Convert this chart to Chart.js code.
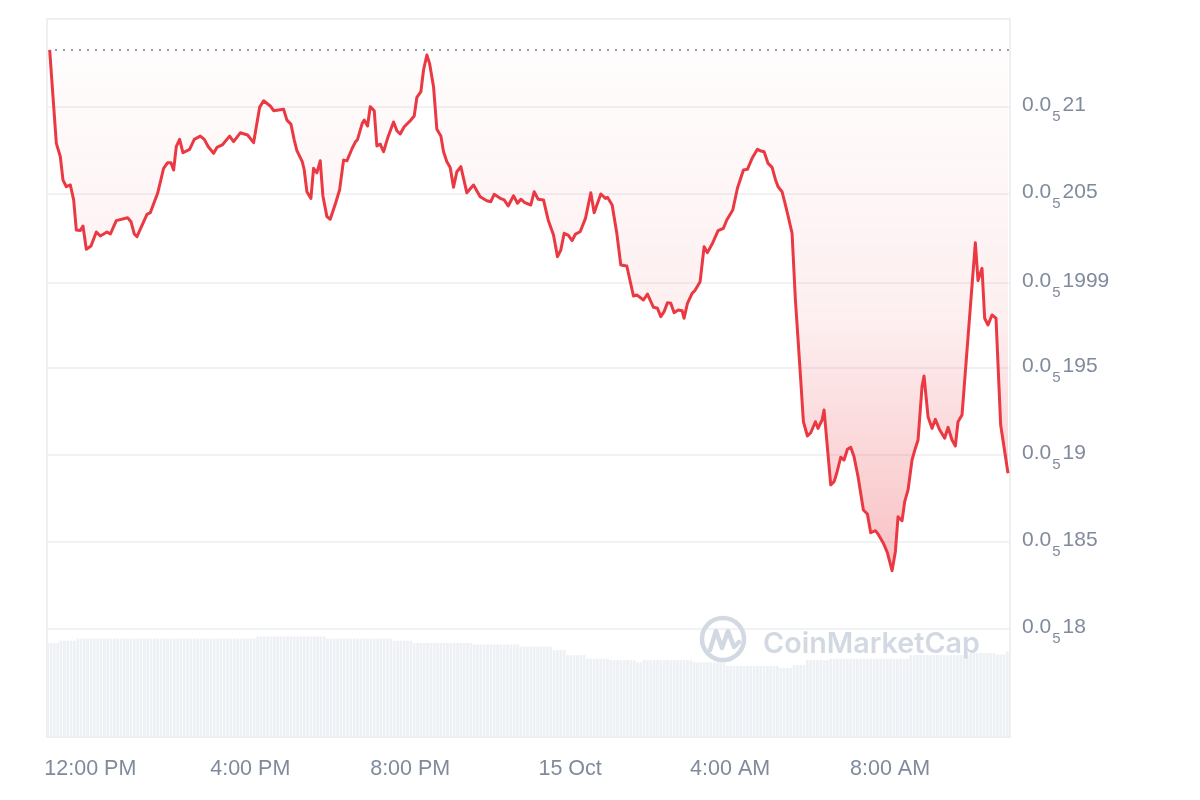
<!DOCTYPE html>
<html><head><meta charset="utf-8">
<script src="https://cdn.jsdelivr.net/npm/chart.js@4.4.0/dist/chart.umd.min.js"></script>
<style>html,body{margin:0;padding:0;background:#fff}#wrap{width:1200px;height:800px;position:relative}</style>
</head><body><div id="wrap"><canvas id="c"></canvas></div>
<script>
// minutes relative to 12:00 PM, 14 Oct
const priceTimes = [
-61,-51,-45,-41,-36,-30,-25,-21,-15,-11,
-6,1,9,15,25,30,39,56,61,66,
70,85,90,101,110,116,121,125,129,134,
139,149,156,165,171,177,185,190,198,209,
215,225,236,245,254,260,270,275,290,295,
301,306,310,318,321,325,331,335,340,345,
349,355,360,368,374,380,385,393,398,401,
408,411,416,420,426,430,435,440,446,455,
460,465,471,481,486,490,496,500,505,509,
515,520,526,530,535,540,545,550,556,565,
575,585,595,601,606,615,621,627,635,641,
646,652,661,666,672,680,687,695,701,706,
711,717,723,728,735,743,751,756,766,773,
776,783,790,796,805,815,820,830,836,845,
851,856,861,866,871,876,882,888,891,896,
903,907,915,921,926,934,942,950,955,964,
971,980,986,993,1001,1005,1011,1017,1023,1028,
1032,1038,1043,1047,1053,1058,1065,1070,1076,1081,
1088,1092,1098,1101,1111,1116,1120,1126,1131,1136,
1141,1146,1152,1160,1166,1171,1178,1182,1190,1196,
1203,1208,1212,1218,1222,1227,1233,1238,1242,1248,
1251,1257,1263,1268,1274,1282,1287,1293,1298,1302,1308,
1328,1332,1338,1342,1347,1353,1359,1366,1377
];
// price in units of 0.000001 USD
const prices = [
2.1328,2.0791,2.0714,2.0580,2.0542,2.0552,2.0466,2.0293,2.0290,2.0316,
2.0182,2.0201,2.0282,2.0259,2.0282,2.0270,2.0347,2.0364,2.0341,2.0270,
2.0255,2.0383,2.0393,2.0504,2.0648,2.0680,2.0680,2.0638,2.0772,2.0814,
2.0737,2.0757,2.0814,2.0833,2.0814,2.0772,2.0734,2.0768,2.0782,2.0833,
2.0801,2.0852,2.0839,2.0795,2.0998,2.1036,2.1006,2.0979,2.0987,2.0925,
2.0902,2.0810,2.0749,2.0686,2.0638,2.0513,2.0475,2.0648,2.0622,2.0691,
2.0489,2.0370,2.0355,2.0447,2.0523,2.0695,2.0691,2.0763,2.0801,2.0814,
2.0906,2.0925,2.0891,2.1002,2.0979,2.0776,2.0787,2.0743,2.0820,2.0914,
2.0864,2.0845,2.0887,2.0925,2.0948,2.1056,2.1088,2.1213,2.1299,2.1251,
2.1117,2.0872,2.0833,2.0743,2.0686,2.0653,2.0539,2.0628,2.0657,2.0507,
2.0552,2.0484,2.0461,2.0456,2.0498,2.0475,2.0466,2.0431,2.0490,2.0447,
2.0470,2.0450,2.0437,2.0513,2.0470,2.0466,2.0351,2.0264,2.0140,2.0178,
2.0274,2.0264,2.0232,2.0270,2.0283,2.0360,2.0507,2.0393,2.0500,2.0475,
2.0481,2.0437,2.0274,2.0092,2.0086,1.9914,1.9920,1.9891,1.9925,1.9849,
1.9843,1.9795,1.9824,1.9875,1.9872,1.9818,1.9833,1.9829,1.9786,1.9872,
1.9929,1.9944,1.9996,2.0197,2.0163,2.0220,2.0289,2.0303,2.0351,2.0408,
2.0533,2.0638,2.0642,2.0705,2.0757,2.0749,2.0743,2.0676,2.0653,2.0584,
2.0542,2.0513,2.0437,2.0374,2.0274,1.9891,1.9489,1.9191,1.9109,1.9128,
1.9191,1.9153,1.9201,1.9259,1.8828,1.8847,1.8895,1.8987,1.8971,1.9033,
1.9044,1.8990,1.8875,1.8684,1.8661,1.8553,1.8565,1.8546,1.8493,1.8439,
1.8335,1.8444,1.8645,1.8622,1.8732,1.8799,1.8971,1.9039,1.9086,1.9393,
1.9454,1.9220,1.9153,1.9205,1.9148,1.9096,1.9159,1.9086,1.9052,1.9191,1.9230,
2.0220,2.0002,2.0073,1.9786,1.9747,1.9805,1.9786,1.9172,1.8895
];
// 5-minute volume bars (relative units)
const volumeStart = -64;
const volumeStep = 5;
const volumes = [
13.1,13.1,13.1,13.1,
13.4,13.4,13.4,13.4,13.4,
13.7,13.7,13.7,13.7,13.7,13.7,13.7,13.7,13.7,
13.7,13.7,13.7,13.7,13.7,13.7,13.7,13.7,13.7,
13.7,13.7,13.7,13.7,13.7,13.7,13.7,13.7,13.7,
13.7,13.7,13.7,13.7,13.7,13.7,13.7,13.7,13.7,
13.7,13.7,13.7,13.7,13.7,13.7,13.7,13.7,13.7,
13.7,13.7,13.7,13.7,13.7,13.7,13.7,13.7,13.7,
14.0,14.0,14.0,14.0,14.0,14.0,14.0,
14.0,14.0,14.0,14.0,14.0,14.0,14.0,
14.0,14.0,14.0,14.0,14.0,14.0,14.0,
13.7,13.7,13.7,13.7,13.7,13.7,13.7,13.7,13.7,13.7,
13.7,13.7,13.7,13.7,13.7,13.7,13.7,13.7,13.7,13.7,
13.4,13.4,13.4,13.4,13.4,13.4,
13.1,13.1,13.1,13.1,13.1,13.1,13.1,13.1,13.1,
13.1,13.1,13.1,13.1,13.1,13.1,13.1,13.1,13.1,
12.9,12.9,12.9,12.9,12.9,12.9,12.9,
12.9,12.9,12.9,12.9,12.9,12.9,12.9,
12.6,12.6,12.6,12.6,12.6,12.6,12.6,12.6,12.6,12.6,
12.1,12.1,12.1,12.1,
11.4,11.4,11.4,11.4,11.4,11.4,
10.9,10.9,10.9,10.9,10.9,10.9,10.9,
10.7,10.7,10.7,10.7,10.7,10.7,10.7,10.7,
10.4,10.4,
10.7,10.7,10.7,10.7,10.7,
10.7,10.7,10.7,10.7,10.7,
10.7,10.7,10.7,10.7,10.7,
10.4,10.4,10.4,10.4,10.4,10.4,10.4,10.4,10.4,10.4,
9.9,9.9,9.9,9.9,9.9,9.9,9.9,9.9,
9.9,9.9,9.9,9.9,9.9,9.9,9.9,9.9,
9.6,9.6,9.6,9.6,
10.0,10.0,10.0,10.0,
10.7,10.7,10.7,10.7,10.7,10.7,10.7,
10.9,10.9,10.9,10.9,10.9,10.9,10.9,10.9,
10.9,10.9,10.9,10.9,10.9,10.9,10.9,10.9,
10.9,10.9,10.9,10.9,10.9,10.9,10.9,10.9,
11.4,11.4,11.4,11.4,11.4,11.4,11.4,11.4,11.4,
11.4,11.4,11.4,11.4,11.4,11.4,11.4,11.4,11.4,
11.7,11.7,11.7,11.7,11.7,11.7,11.7,11.7,
11.5,11.5,11.5,
11.9
];
const xTickValues = [0, 240, 480, 720, 960, 1200];
const xTickLabels = ['12:00 PM', '4:00 PM', '8:00 PM', '15 Oct', '4:00 AM', '8:00 AM'];
const yTickValues = [1.80, 1.85, 1.90, 1.95, 1.999, 2.05, 2.10];
const yTickPrefix = '0.0';
const yTickSub = '5';
const yTickRest = ['18', '185', '19', '195', '1999', '205', '21'];

const FONT = "'Liberation Sans', Arial, Helvetica, sans-serif";
const GREY = '#808a9d';
const RED = '#ea3943';
const maxPrice = Math.max(...prices);

const priceData = priceTimes.map((t, i) => ({x: t, y: prices[i]}));
const volData = volumes.map((v, i) => ({x: volumeStart + i * volumeStep, y: v}));

const framePlugin = {
  id: 'frame',
  beforeDatasetsDraw(chart) {
    const {ctx, chartArea: a} = chart;
    ctx.save();
    ctx.strokeStyle = '#eeeff1';
    ctx.lineWidth = 2;
    ctx.strokeRect(a.left, a.top, a.right - a.left, a.bottom - a.top);
    const y = chart.scales.y.getPixelForValue(maxPrice);
    ctx.strokeStyle = '#9a9fa8';
    ctx.lineWidth = 2;
    ctx.setLineDash([2, 6]);
    ctx.beginPath();
    ctx.moveTo(a.left + 8, y);
    ctx.lineTo(a.right, y);
    ctx.stroke();
    ctx.restore();
  },
  afterDatasetsDraw(chart) {
    const {ctx} = chart;
    ctx.save();
    const col = '#d3d9e3';
    ctx.strokeStyle = col;
    ctx.lineWidth = 4.5;
    ctx.lineJoin = 'round';
    ctx.lineCap = 'round';
    ctx.beginPath();
    ctx.arc(723, 639, 21, 0, Math.PI * 2);
    ctx.stroke();
    ctx.beginPath();
    ctx.moveTo(710, 650);
    ctx.lineTo(716, 631);
    ctx.lineTo(722, 648);
    ctx.lineTo(728, 631);
    ctx.lineTo(734, 647);
    ctx.lineTo(739, 642);
    ctx.stroke();
    ctx.fillStyle = col;
    let size = 29;
    ctx.font = `600 ${size}px Inter, 'Open Sans', sans-serif`;
    const w = ctx.measureText('CoinMarketCap').width;
    size = size * 217 / w;
    ctx.font = `600 ${size}px Inter, 'Open Sans', sans-serif`;
    ctx.textBaseline = 'alphabetic';
    ctx.fillText('CoinMarketCap', 763, 653);
    ctx.restore();
  },
  afterDraw(chart) {
    const {ctx} = chart;
    const ys = chart.scales.y;
    ctx.save();
    ctx.fillStyle = GREY;
    ctx.textBaseline = 'alphabetic';
    yTickValues.forEach((v, i) => {
      const y = ys.getPixelForValue(v);
      const x0 = 1022;
      ctx.font = `21px ${FONT}`;
      ctx.fillText(yTickPrefix, x0, y + 4);
      const w0 = ctx.measureText(yTickPrefix).width;
      ctx.font = `15px ${FONT}`;
      const xs = x0 + w0 + 1;
      ctx.fillText(yTickSub, xs, y + 14);
      const ws = ctx.measureText(yTickSub).width;
      ctx.font = `21px ${FONT}`;
      ctx.fillText(yTickRest[i], xs + ws + 2, y + 4);
    });
    ctx.restore();
  }
};

new Chart(document.getElementById('c'), {
  data: {
    datasets: [
      {
        type: 'line',
        label: 'Price',
        data: priceData,
        xAxisID: 'x',
        yAxisID: 'y',
        borderColor: RED,
        borderWidth: 3,
        pointRadius: 0,
        tension: 0,
        borderJoinStyle: 'round',
        fill: {value: maxPrice},
        backgroundColor: (c) => {
          const chart = c.chart;
          const a = chart.chartArea;
          if (!a) return 'rgba(234,57,67,0.1)';
          const g = chart.ctx.createLinearGradient(0, 50, 0, 580);
          g.addColorStop(0, 'rgba(234,57,67,0.01)');
          g.addColorStop(0.5, 'rgba(234,57,67,0.08)');
          g.addColorStop(1, 'rgba(234,57,67,0.32)');
          return g;
        },
        order: 1
      },
      {
        type: 'bar',
        label: 'Volume',
        data: volData,
        xAxisID: 'x',
        yAxisID: 'yv',
        backgroundColor: '#edf0f4',
        barPercentage: 0.8,
        categoryPercentage: 1,
        order: 2
      }
    ]
  },
  options: {
    responsive: true,
    maintainAspectRatio: false,
    animation: false,
    layout: {padding: {left: 47, top: 19, right: 0, bottom: 0}},
    plugins: {legend: {display: false}, tooltip: {enabled: false}},
    scales: {
      x: {
        type: 'linear',
        min: -65,
        max: 1380,
        offset: false,
        grid: {display: false, offset: false},
        border: {display: false},
        afterBuildTicks: (s) => { s.ticks = xTickValues.map(v => ({value: v})); },
        afterFit: (s) => { s.height = 63; },
        ticks: {
          padding: 11,
          maxRotation: 0,
          autoSkip: false,
          color: GREY,
          font: {family: FONT, size: 21.5},
          callback: (v) => { const i = xTickValues.indexOf(v); return i >= 0 ? xTickLabels[i] : ''; }
        }
      },
      y: {
        type: 'linear',
        position: 'right',
        min: 1.7379,
        max: 2.1506,
        grid: {color: '#f1f2f4', lineWidth: 2, drawTicks: false},
        border: {display: false},
        afterBuildTicks: (s) => { s.ticks = yTickValues.map(v => ({value: v})); },
        afterFit: (s) => { s.width = 190; },
        ticks: {display: false}
      },
      yv: {
        type: 'linear',
        display: false,
        min: 0,
        max: 100
      }
    }
  },
  plugins: [framePlugin]
});
</script>
</body></html>
